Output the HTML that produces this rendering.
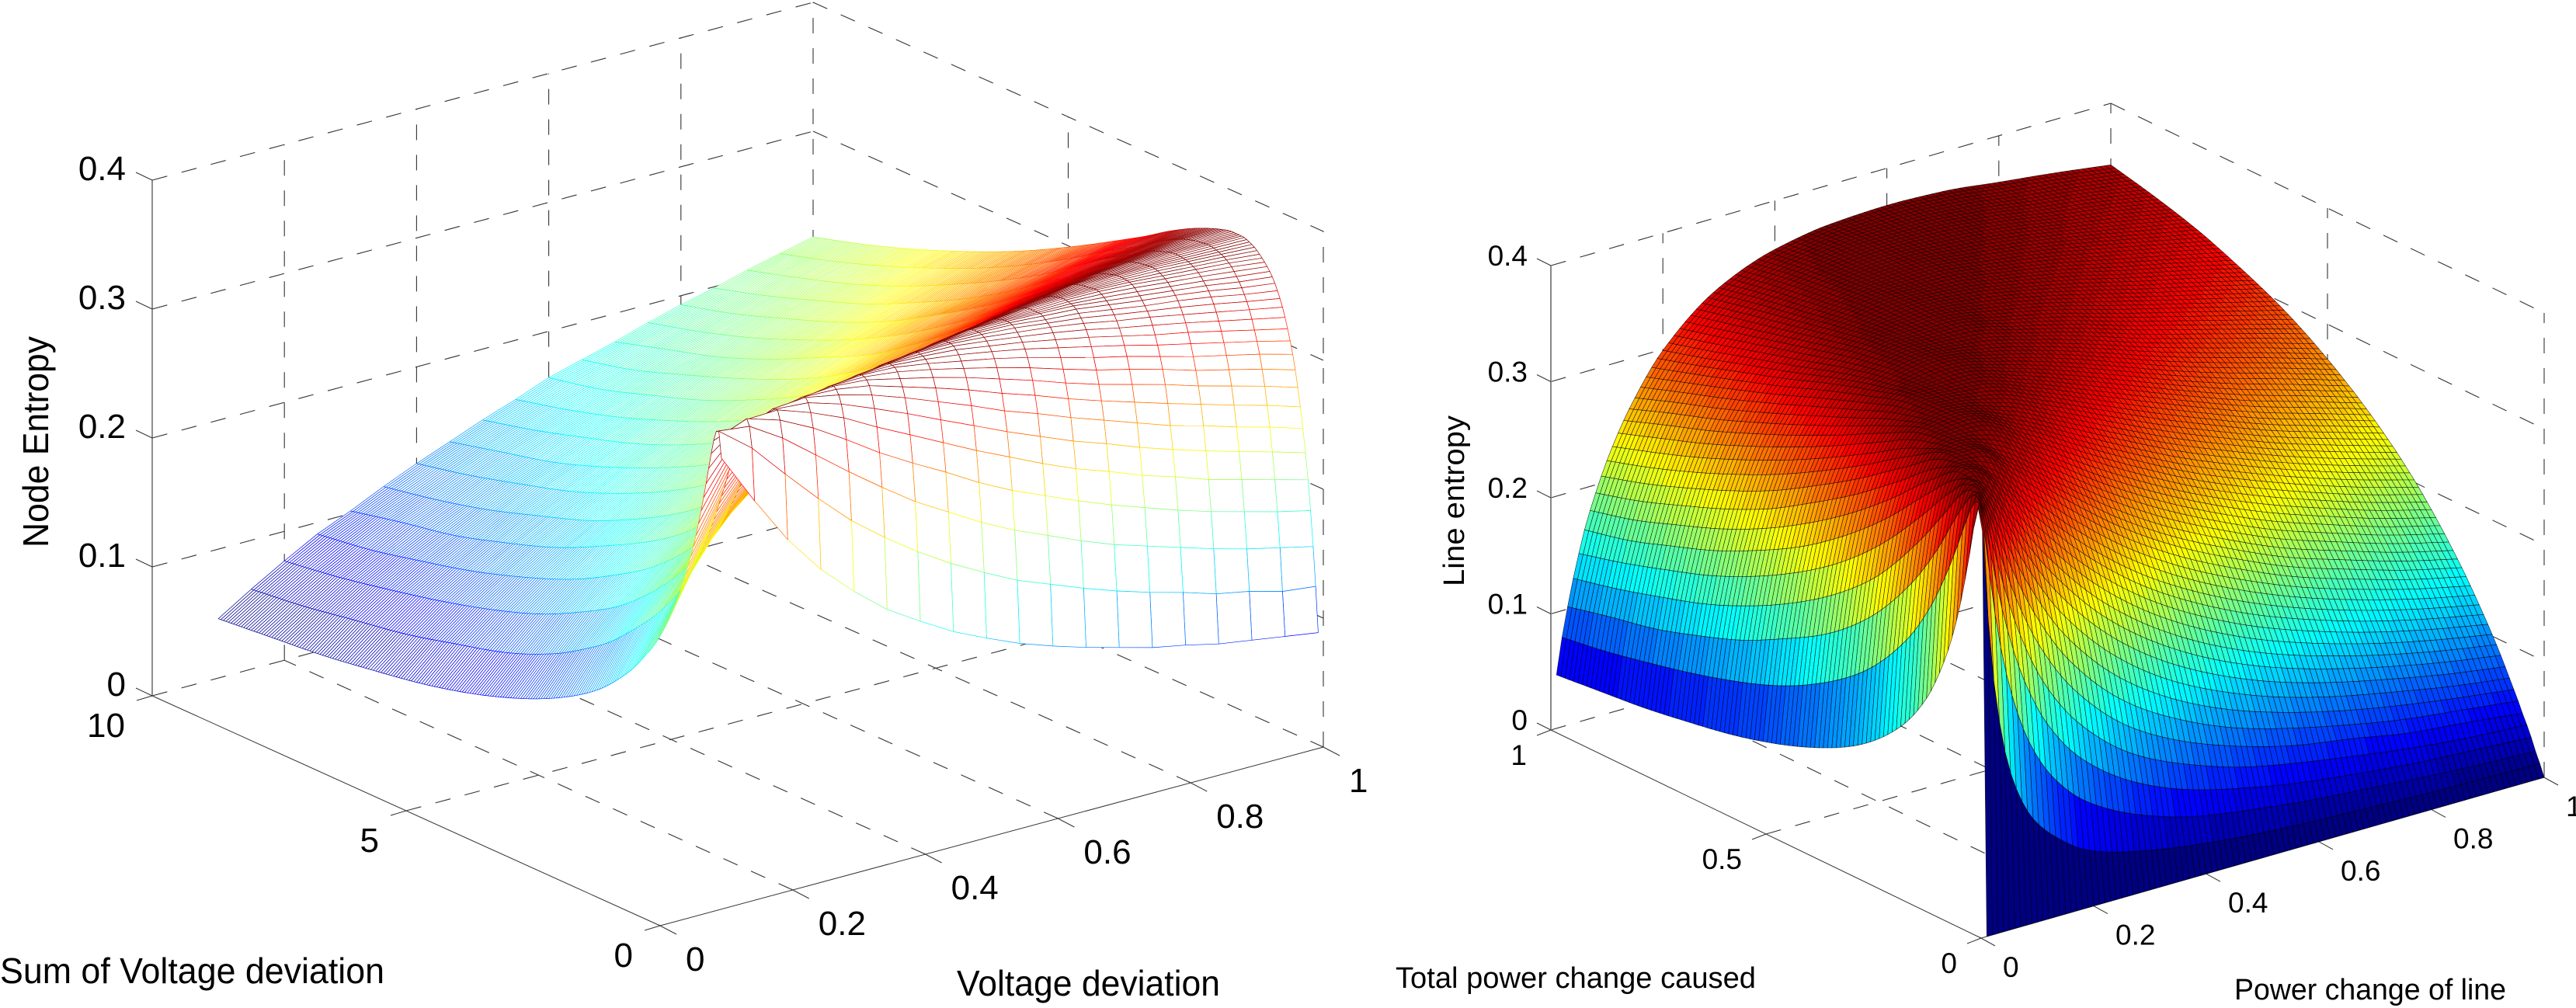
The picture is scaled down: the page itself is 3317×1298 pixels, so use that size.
<!DOCTYPE html>
<html lang="en">
<head>
<meta charset="utf-8">
<title>Node entropy and line entropy surfaces</title>
<style>
html,body{margin:0;padding:0;background:#fff;}
svg{display:block;font-family:"Liberation Sans",Arial,sans-serif;}
text{fill:#000;}
</style>
</head>
<body>
<svg id="figure" xmlns="http://www.w3.org/2000/svg" width="3317" height="1298" viewBox="0 0 3317 1298">
  <rect x="0" y="0" width="3317" height="1298" fill="#fff"/>
  <g id="left-chart"></g>
  <g id="right-chart"></g>
  <g>
    <text x="0" y="1266" font-size="46" textLength="495" lengthAdjust="spacingAndGlyphs">Sum of Voltage deviation</text>
    <text x="1232" y="1282" font-size="46" textLength="339" lengthAdjust="spacingAndGlyphs">Voltage deviation</text>
    <text transform="translate(62,705) rotate(-90)" font-size="46" textLength="272" lengthAdjust="spacingAndGlyphs">Node Entropy</text>
    <text x="1797" y="1272" font-size="38" textLength="464" lengthAdjust="spacingAndGlyphs">Total power change caused</text>
    <text x="2877" y="1287" font-size="38" textLength="350" lengthAdjust="spacingAndGlyphs">Power change of line</text>
    <text transform="translate(1885,755) rotate(-90)" font-size="38" textLength="220" lengthAdjust="spacingAndGlyphs">Line entropy</text>
  </g>
</svg>
<script>
/* ---------- Left chart data: Node Entropy ---------- */
const leftXValues = [.1,.15,.2,.25,.3,.35,.4,.45,.5,.55,.6,.65,.7,.75,.8,.85,.9,.95,1];
const leftYValues = [.1,.15,.2,.25,.3,.4,.5,.6,.7,.8,.9,1,1.2,1.4,1.6,1.8,2,2.5,3,3.5,4,5,6,7,8,9,10];
const leftZRows = [
[.347,.307,.270,.240,.216,.195,.179,.164,.152,.141,.132,.124,.117,.110,.105,.099,.095,.091,.087],
[.367,.347,.320,.294,.270,.250,.232,.216,.202,.189,.179,.169,.160,.152,.145,.137,.132,.125,.122],
[.366,.363,.347,.327,.307,.288,.270,.255,.240,.227,.216,.205,.195,.187,.179,.171,.164,.158,.152],
[.358,.368,.360,.347,.331,.314,.299,.285,.270,.257,.246,.235,.225,.216,.207,.199,.192,.185,.179],
[.347,.366,.367,.358,.347,.333,.320,.307,.294,.282,.270,.259,.250,.240,.232,.223,.216,.209,.202],
[.322,.354,.366,.368,.363,.356,.347,.337,.327,.316,.307,.297,.288,.279,.270,.263,.255,.248,.240],
[.299,.339,.358,.366,.368,.366,.360,.354,.347,.339,.331,.322,.314,.307,.300,.292,.285,.278,.270],
[.278,.322,.347,.360,.366,.368,.367,.363,.358,.353,.347,.340,.333,.327,.320,.313,.307,.301,.294],
[.260,.306,.334,.351,.361,.366,.368,.367,.365,.361,.357,.352,.347,.341,.335,.330,.324,.318,.312],
[.244,.292,.322,.342,.354,.362,.366,.368,.368,.366,.363,.360,.356,.351,.347,.342,.337,.332,.327],
[.230,.278,.310,.332,.347,.356,.363,.366,.368,.368,.367,.364,.362,.358,.354,.351,.347,.342,.338],
[.218,.266,.299,.322,.339,.350,.358,.363,.366,.368,.368,.367,.366,.363,.360,.357,.354,.350,.347],
[.197,.244,.278,.303,.322,.336,.347,.354,.360,.364,.366,.367,.368,.368,.367,.365,.363,.361,.358],
[.180,.225,.260,.286,.306,.322,.334,.344,.351,.357,.361,.364,.366,.367,.368,.368,.367,.366,.365],
[.167,.209,.244,.271,.292,.309,.322,.332,.342,.349,.354,.359,.362,.365,.366,.367,.368,.368,.368],
[.155,.197,.230,.257,.278,.296,.310,.322,.332,.340,.347,.352,.356,.360,.363,.365,.366,.367,.368],
[.145,.186,.218,.244,.266,.284,.299,.311,.322,.331,.339,.345,.350,.354,.358,.361,.363,.365,.366],
[.125,.164,.193,.218,.239,.257,.274,.287,.299,.309,.318,.325,.332,.339,.343,.348,.351,.355,.358],
[.111,.145,.173,.197,.218,.237,.251,.266,.278,.289,.299,.307,.315,.322,.328,.333,.339,.342,.347],
[.100,.131,.157,.180,.200,.218,.233,.247,.260,.271,.282,.290,.299,.306,.313,.319,.325,.330,.334],
[.091,.119,.145,.167,.186,.202,.218,.231,.244,.255,.266,.275,.284,.292,.299,.305,.311,.317,.322],
[.077,.102,.125,.145,.164,.178,.193,.206,.218,.229,.239,.248,.257,.266,.274,.280,.287,.293,.299],
[.067,.091,.111,.129,.145,.159,.173,.186,.197,.208,.218,.227,.237,.244,.251,.259,.266,.272,.278],
[.060,.081,.100,.116,.131,.145,.157,.169,.180,.191,.200,.210,.218,.226,.233,.240,.247,.254,.260],
[.054,.074,.091,.106,.119,.132,.145,.155,.167,.176,.186,.195,.202,.210,.218,.225,.231,.238,.244],
[.050,.067,.083,.097,.111,.122,.134,.145,.155,.164,.173,.181,.190,.197,.204,.211,.218,.224,.230],
[.046,.062,.077,.091,.102,.114,.125,.135,.145,.154,.164,.171,.178,.186,.193,.199,.206,.212,.218]
];
const leftXTicks = [0,.2,.4,.6,.8,1];
const leftXTickLabels = ["0","0.2","0.4","0.6","0.8","1"];
const leftYTicks = [0,5,10];
const leftYTickLabels = ["0","5","10"];
const leftZTicks = [0,.1,.2,.3,.4];
const leftZTickLabels = ["0","0.1","0.2","0.3","0.4"];

/* ---------- Right chart data: Line entropy ---------- */
const rightXValues = [.01,.02,.03,.04,.05,.06,.08,.1,.14,.2,.3,.4,.5,.6,.7,.8,.9,1];
const rightYValues = [0,.01,.02,.03,.04,.05,.06,.08,.1,.14,.2,.3,.4,.5,.6,.7,.8,.9,1];
const rightZRows = [
[0,0,0,0,0,0,0,0,0,0,0,0,0,0,0,0,0,0],
[.347,.270,.216,.179,.152,.132,.105,.087,.066,.046,.032,.024,.019,.016,.014,.012,.011,.010],
[.366,.347,.307,.270,.240,.216,.179,.152,.117,.087,.061,.046,.038,.032,.028,.024,.021,.019],
[.347,.367,.347,.320,.294,.270,.232,.202,.160,.122,.087,.067,.055,.046,.040,.035,.032,.029],
[.322,.366,.363,.347,.327,.307,.270,.240,.195,.152,.110,.087,.071,.061,.053,.046,.041,.038],
[.299,.358,.368,.360,.347,.331,.299,.270,.225,.179,.132,.105,.087,.074,.066,.057,.052,.046],
[.278,.347,.366,.367,.358,.347,.320,.294,.250,.202,.152,.122,.101,.087,.076,.067,.061,.055],
[.244,.322,.354,.366,.368,.363,.347,.327,.288,.240,.187,.152,.128,.110,.097,.087,.078,.071],
[.218,.299,.339,.358,.366,.368,.360,.347,.314,.270,.216,.179,.152,.132,.117,.105,.095,.087],
[.180,.260,.306,.334,.351,.361,.368,.365,.347,.312,.261,.222,.193,.170,.152,.137,.125,.115],
[.145,.218,.266,.299,.322,.339,.358,.366,.366,.347,.307,.270,.240,.216,.195,.179,.164,.152],
[.111,.173,.218,.251,.278,.299,.328,.347,.364,.367,.347,.320,.294,.270,.250,.232,.216,.202],
[.091,.145,.186,.218,.244,.266,.299,.322,.350,.366,.363,.347,.327,.307,.288,.270,.255,.240],
[.077,.125,.164,.193,.218,.239,.274,.299,.332,.358,.368,.360,.347,.331,.314,.299,.285,.270],
[.067,.111,.145,.173,.197,.218,.251,.278,.315,.347,.366,.367,.358,.347,.333,.320,.307,.294],
[.060,.100,.131,.157,.180,.200,.233,.260,.299,.334,.361,.368,.365,.357,.347,.335,.324,.312],
[.054,.091,.119,.145,.167,.186,.218,.244,.284,.322,.354,.366,.368,.363,.356,.347,.337,.327],
[.050,.083,.111,.134,.155,.173,.204,.230,.271,.310,.347,.363,.368,.367,.362,.354,.347,.338],
[.046,.077,.102,.125,.145,.164,.193,.218,.257,.299,.339,.358,.366,.368,.366,.360,.354,.347]
];
const rightXTicks = [0,.2,.4,.6,.8,1];
const rightXTickLabels = ["0","0.2","0.4","0.6","0.8","1"];
const rightYTicks = [0,.5,1];
const rightYTickLabels = ["0","0.5","1"];
const rightZTicks = [0,.1,.2,.3,.4];
const rightZTickLabels = ["0","0.1","0.2","0.3","0.4"];

/* ---------- Shared helpers ---------- */
const SVG_NS = "http://www.w3.org/2000/svg";

function bracket(values, v) {
  let i = 0;
  while (i < values.length - 2 && values[i + 1] < v) i++;
  const t = (v - values[i]) / (values[i + 1] - values[i]);
  return [i, Math.max(0, Math.min(1, t))];
}

/* Shape-preserving curve through the tabulated nodes, used only to smooth the drawn mesh. */
function smoothAt(xs, ys, v) {
  const n = xs.length;
  const [i, t] = bracket(xs, v);
  const slope = function (k) { return (ys[k + 1] - ys[k]) / (xs[k + 1] - xs[k]); };
  const tangent = function (k) {
    if (k === 0) return slope(0);
    if (k === n - 1) return slope(n - 2);
    const s0 = slope(k - 1), s1 = slope(k);
    if (s0 * s1 <= 0) return 0;
    const h0 = xs[k] - xs[k - 1], h1 = xs[k + 1] - xs[k];
    const w1 = 2 * h1 + h0, w2 = h1 + 2 * h0;
    return (w1 + w2) / (w1 / s0 + w2 / s1);
  };
  const h = xs[i + 1] - xs[i];
  const t2 = t * t, t3 = t2 * t;
  return (2 * t3 - 3 * t2 + 1) * ys[i] + (t3 - 2 * t2 + t) * h * tangent(i) +
         (-2 * t3 + 3 * t2) * ys[i + 1] + (t3 - t2) * h * tangent(i + 1);
}

const columnCache = new Map();
function sampleZ(xs, ys, rows, x, y) {
  if (!columnCache.has(rows)) columnCache.set(rows, new Map());
  const perRows = columnCache.get(rows);
  if (!perRows.has(x)) {
    perRows.set(x, rows.map(function (row) { return smoothAt(xs, row, x); }));
  }
  return smoothAt(ys, perRows.get(x), y);
}

function clamp01(v) { return Math.max(0, Math.min(1, v)); }

function jet(t) {
  const q = Math.min(63, Math.floor(clamp01(t) * 64)) / 63;
  const r = clamp01(1.5 - Math.abs(4 * q - 3));
  const g = clamp01(1.5 - Math.abs(4 * q - 2));
  const b = clamp01(1.5 - Math.abs(4 * q - 1));
  return "rgb(" + Math.round(r * 255) + "," + Math.round(g * 255) + "," + Math.round(b * 255) + ")";
}

function makeProjector(box) {
  return function (x, y, z) {
    const u = x / box.xMax, v = y / box.yMax;
    const px = box.F[0] * (1 - u) * (1 - v) + box.R[0] * u * (1 - v) + box.L[0] * (1 - u) * v + box.B[0] * u * v;
    const py = box.F[1] * (1 - u) * (1 - v) + box.R[1] * u * (1 - v) + box.L[1] * (1 - u) * v + box.B[1] * u * v;
    return [px, py - z / box.zMax * box.height];
  };
}

function addLine(parent, a, b, style) {
  const el = document.createElementNS(SVG_NS, "line");
  el.setAttribute("x1", a[0].toFixed(1));
  el.setAttribute("y1", a[1].toFixed(1));
  el.setAttribute("x2", b[0].toFixed(1));
  el.setAttribute("y2", b[1].toFixed(1));
  el.setAttribute("stroke", style.color);
  el.setAttribute("stroke-width", style.width);
  if (style.dash) el.setAttribute("stroke-dasharray", style.dash);
  parent.appendChild(el);
  return el;
}

function addLabel(parent, str, x, y, size, anchor) {
  const el = document.createElementNS(SVG_NS, "text");
  el.setAttribute("x", x.toFixed(1));
  el.setAttribute("y", y.toFixed(1));
  el.setAttribute("font-size", size);
  el.setAttribute("text-anchor", anchor);
  el.textContent = str;
  parent.appendChild(el);
  return el;
}

function drawFrame(root, box, project, ticks) {
  const grid = { color: "#333", width: 1.1, dash: "20 19" };
  const solid = { color: "#333", width: 1 };
  const xMax = box.xMax, yMax = box.yMax, zMax = box.zMax;

  ticks.z.forEach(function (z) {
    const wallLeft = addLine(root, project(0, yMax, z), project(xMax, yMax, z), grid);
    
    
    const wallRight = addLine(root, project(xMax, yMax, z), project(xMax, 0, z), grid);
    
    
  });
  ticks.x.forEach(function (x) {
    if (x > 0) {
      const upright = addLine(root, project(x, yMax, 0), project(x, yMax, zMax), grid);
      
      
    }
    if (x > 0 && x < xMax) {
      const floor = addLine(root, project(x, 0, 0), project(x, yMax, 0), grid);
      
      
    }
  });
  ticks.y.forEach(function (y) {
    if (y < yMax) {
      const upright = addLine(root, project(xMax, y, 0), project(xMax, y, zMax), grid);
      
      
    }
    if (y > 0 && y < yMax) {
      const floor = addLine(root, project(0, y, 0), project(xMax, y, 0), grid);
      
      
    }
  });

  const xAxis = addLine(root, project(0, 0, 0), project(xMax, 0, 0), solid);
  
  
  const yAxis = addLine(root, project(0, 0, 0), project(0, yMax, 0), solid);
  
  
  const zAxis = addLine(root, project(0, yMax, 0), project(0, yMax, zMax), { color: box.zAxisColor, width: box.zAxisWidth });
  
  

  ticks.x.forEach(function (x, k) {
    const p = project(x, 0, 0);
    const mark = addLine(root, [p[0] - 2, p[1] - 1], [p[0] + box.xTick[0], p[1] + box.xTick[1]], solid);
    
    
    const label = addLabel(root, ticks.xLabels[k], p[0] + box.xLabel[0], p[1] + box.xLabel[1], box.fontSize, "start");
    
    
  });
  ticks.y.forEach(function (y, k) {
    const p = project(0, y, 0);
    const mark = addLine(root, p, [p[0] + box.yTick[0], p[1] + box.yTick[1]], solid);
    
    
    const label = addLabel(root, ticks.yLabels[k], p[0] + box.yLabel[0], p[1] + box.yLabel[1], box.fontSize, "end");
    
    
  });
  ticks.z.forEach(function (z, k) {
    const p = project(0, yMax, z);
    const mark = addLine(root, p, [p[0] + box.zTick[0], p[1] + box.zTick[1]], solid);
    
    
    const label = addLabel(root, ticks.zLabels[k], p[0] + box.zLabel[0], p[1] + box.zLabel[1], box.fontSize, "end");
    
    
  });
}

function pointsAttr(list) {
  return list.map(function (p) { return p[0].toFixed(1) + "," + p[1].toFixed(1); }).join(" ");
}

/* ---------- Left chart: white facets with coloured mesh edges ---------- */
const leftBox = {
  F: [850, 1192], R: [1704, 962], L: [196, 896], B: [1047, 667],
  xMax: 1, yMax: 10, zMax: .4, height: 664,
  xTick: [21, 11], yTick: [-20, 6], zTick: [-21, -10],
  xLabel: [33, 58], yLabel: [-35, 53], zLabel: [-34, 0],
  fontSize: 44, zAxisColor: "#444", zAxisWidth: 1.2
};
const leftProject = makeProjector(leftBox);
const leftRoot = document.getElementById("left-chart");
drawFrame(leftRoot, leftBox, leftProject, {
  x: leftXTicks, xLabels: leftXTickLabels,
  y: leftYTicks, yLabels: leftYTickLabels,
  z: leftZTicks, zLabels: leftZTickLabels
});

(function drawLeftSurface() {
  const group = document.createElementNS(SVG_NS, "g");
  
  
  const zLow = .046, zHigh = .368;
  const colorOf = function (z) { return jet((z - zLow) / (zHigh - zLow)); };
  for (let i = leftXValues.length - 2; i >= 0; i--) {
    for (let k = 199; k >= 2; k--) {
      const x0 = leftXValues[i], x1 = leftXValues[i + 1];
      const y0 = k / 20, y1 = (k + 1) / 20;
      const z00 = sampleZ(leftXValues, leftYValues, leftZRows, x0, y0);
      const z10 = sampleZ(leftXValues, leftYValues, leftZRows, x1, y0);
      const z01 = sampleZ(leftXValues, leftYValues, leftZRows, x0, y1);
      const z11 = sampleZ(leftXValues, leftYValues, leftZRows, x1, y1);
      const p00 = leftProject(x0, y0, z00), p10 = leftProject(x1, y0, z10);
      const p01 = leftProject(x0, y1, z01), p11 = leftProject(x1, y1, z11);

      const facet = document.createElementNS(SVG_NS, "polygon");
      
      
      facet.setAttribute("points", pointsAttr([p00, p10, p11, p01]));
      facet.setAttribute("fill", "#fff");
      group.appendChild(facet);

      const style = { width: 0.7 };
      style.color = colorOf((z00 + z10) / 2);
      const nearEdge = addLine(group, p00, p10, style);
      
      
      style.color = colorOf((z01 + z11) / 2);
      const farEdge = addLine(group, p01, p11, style);
      
      
      style.color = colorOf((z00 + z01) / 2);
      const sideA = addLine(group, p00, p01, style);
      
      
      style.color = colorOf((z10 + z11) / 2);
      const sideB = addLine(group, p10, p11, style);
      
      
    }
  }
  leftRoot.appendChild(group);
})();

/* ---------- Right chart: jet-filled facets with black edges ---------- */
const rightBox = {
  F: [2551, 1208], R: [3276, 1001], L: [1997, 940], B: [2718, 731],
  xMax: 1, yMax: 1, zMax: .4, height: 598,
  xTick: [18, 10], yTick: [-18, 7], zTick: [-18, -9],
  xLabel: [28, 50], yLabel: [-31, 45], zLabel: [-30, 0],
  fontSize: 37, zAxisColor: "#888", zAxisWidth: 2
};
const rightProject = makeProjector(rightBox);
const rightRoot = document.getElementById("right-chart");
drawFrame(rightRoot, rightBox, rightProject, {
  x: rightXTicks, xLabels: rightXTickLabels,
  y: rightYTicks, yLabels: rightYTickLabels,
  z: rightZTicks, zLabels: rightZTickLabels
});

(function drawRightSurface() {
  const group = document.createElementNS(SVG_NS, "g");
  
  
  const zHigh = .368;
  const steps = 100;
  for (let i = steps - 1; i >= 1; i--) {
    for (let j = steps - 1; j >= 0; j--) {
      const x0 = i / steps, x1 = (i + 1) / steps;
      const y0 = j / steps, y1 = (j + 1) / steps;
      const z00 = sampleZ(rightXValues, rightYValues, rightZRows, x0, y0);
      const z10 = sampleZ(rightXValues, rightYValues, rightZRows, x1, y0);
      const z01 = sampleZ(rightXValues, rightYValues, rightZRows, x0, y1);
      const z11 = sampleZ(rightXValues, rightYValues, rightZRows, x1, y1);
      const facet = document.createElementNS(SVG_NS, "polygon");
      
      
      facet.setAttribute("points", pointsAttr([
        rightProject(x0, y0, z00), rightProject(x1, y0, z10),
        rightProject(x1, y1, z11), rightProject(x0, y1, z01)
      ]));
      facet.setAttribute("fill", jet(z00 / zHigh));
      facet.setAttribute("stroke", "#000");
      facet.setAttribute("stroke-width", "0.6");
      facet.setAttribute("stroke-opacity", "0.8");
      group.appendChild(facet);
    }
  }
  rightRoot.appendChild(group);
})();
</script>
</body>
</html>
